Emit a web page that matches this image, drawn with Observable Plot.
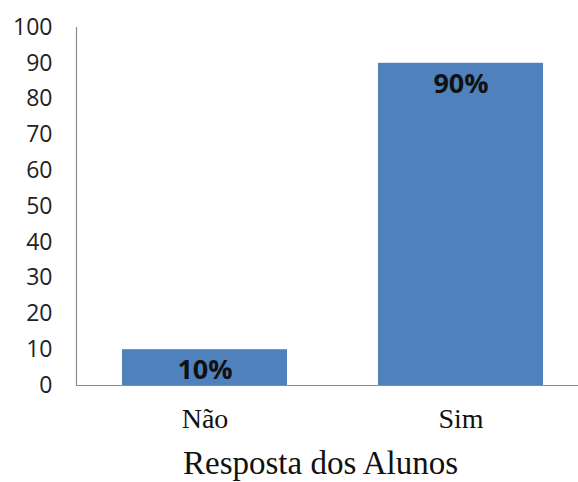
<!DOCTYPE html>
<html>
<head>
<meta charset="utf-8">
<script src="https://cdn.jsdelivr.net/npm/d3@7"></script>
<script src="https://cdn.jsdelivr.net/npm/@observablehq/plot@0.6"></script>
<style>
  body { margin: 0; background: #fff; }
</style>
</head>
<body>
<div id="chart"></div>
<script>
const categories = ["Não", "Sim"];
const values = [10, 90];
const yTicks = [0, 10, 20, 30, 40, 50, 60, 70, 80, 90, 100];
const axisTitle = "Resposta dos Alunos";

const data = categories.map((c, i) => ({category: c, value: values[i], label: values[i] + "%"}));

const chart = Plot.plot({
  width: 578,
  height: 482,
  marginLeft: 76,
  marginRight: 0,
  marginTop: 27,
  marginBottom: 97,
  style: {background: "#fff"},
  x: {domain: categories, range: [76, 588], paddingInner: 0.357, paddingOuter: 0.175, axis: null},
  y: {domain: [0, 100], axis: null},
  marks: [
    Plot.barY(data, {x: "category", y: "value", fill: "#4F81BD"}),
    Plot.ruleY([0], {stroke: "#8c8c8c", strokeWidth: 1.2}),
    Plot.frame({anchor: "left", stroke: "#8c8c8c", strokeWidth: 1.2}),
    Plot.axisY(yTicks, {tickSize: 0, tickPadding: 24, fontSize: 23, fontFamily: "Open Sans", fill: "#222", label: null}),
    Plot.axisX({tickSize: 0, tickPadding: 23, fontSize: 28, fontFamily: "Liberation Serif", fill: "#111", label: null}),
    Plot.text(data, {x: "category", y: "value", text: "label", dy: 21, fontSize: 27, fontWeight: "bold", fontFamily: "Open Sans", fill: "#111"}),
    Plot.text([axisTitle], {frameAnchor: "bottom", dx: -7, dy: 88, fontSize: 33, fontFamily: "Liberation Serif", fill: "#111", style: "word-spacing: 3px"})
  ]
});
document.getElementById("chart").append(chart);
</script>
</body>
</html>
